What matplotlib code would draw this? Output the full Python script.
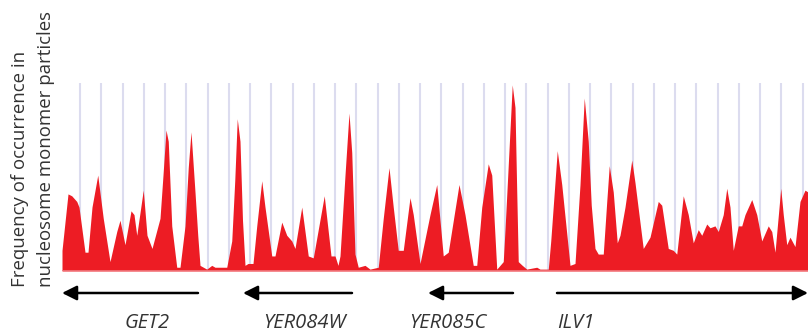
import matplotlib
matplotlib.use("Agg")
import matplotlib.pyplot as plt

plt.rcParams['font.family'] = ['Open Sans', 'DejaVu Sans']

# nucleosome occupancy profile (position in bp, relative frequency 0-100)
position = [0, 48, 78, 118, 136, 184, 208, 240, 286, 330, 384, 438, 464, 504, 552, 576, 598, 650,
            680, 720, 784, 808, 832, 850, 878, 918, 944, 984, 1010, 1032, 1064, 1086, 1104, 1158,
            1198, 1224, 1318, 1358, 1382, 1402, 1424, 1444, 1464, 1488, 1528, 1558, 1598, 1624,
            1678, 1704, 1758, 1798, 1838, 1864, 1918, 1970, 2010, 2098, 2152, 2184,
            2208, 2224, 2264, 2296, 2318, 2344, 2370, 2424, 2464, 2530, 2570, 2616,
            2650, 2690, 2730, 2784, 2810, 2864, 2944, 2998, 3050, 3090, 3176, 3224,
            3290, 3318, 3358, 3410, 3438, 3478, 3530, 3544, 3566, 3602, 3624, 3638, 3650, 3682,
            3718, 3798, 3824, 3890, 3910, 3962, 3998, 4064, 4104, 4144, 4178, 4210, 4234,
            4264, 4290, 4330, 4358, 4378, 4410, 4442, 4464, 4504, 4558, 4584, 4650,
            4704, 4770, 4798, 4850, 4890, 4918, 4970, 5010, 5050, 5090, 5118, 5158,
            5184, 5224, 5250, 5290, 5318, 5344, 5370, 5410, 5438, 5464, 5518, 5558,
            5598, 5650, 5678, 5704, 5750, 5770, 5798, 5824, 5864, 5904, 5944, 5968]
frequency = [11, 41, 40, 37, 34, 10, 10, 34, 51, 28, 5, 21, 27, 14, 32, 30, 19, 43,
             19, 12, 28, 51, 75, 69, 24, 2, 2, 24, 55, 74, 42, 19, 3, 1,
             3, 2, 2, 16, 48, 81, 69, 27, 3, 4, 4, 24, 48, 34,
             8, 8, 26, 19, 16, 12, 34, 8, 7, 40, 8, 8,
             3, 8, 51, 84, 63, 9, 2, 3, 1, 2, 28, 55,
             34, 11, 11, 39, 30, 4, 30, 46, 8, 10, 46, 30,
             3, 3, 34, 57, 51, 1, 5, 22, 51, 99, 87, 42, 5, 3,
             1, 2, 1, 1, 16, 64, 46, 3, 4, 46, 92, 69, 35,
             12, 9, 9, 37, 56, 42, 15, 19, 34, 59, 47, 12,
             18, 37, 35, 12, 11, 9, 40, 30, 15, 22, 19, 25,
             23, 24, 21, 30, 44, 34, 11, 24, 24, 30, 38, 30,
             16, 24, 21, 10, 44, 30, 14, 18, 13, 37, 43, 42]

# nucleosome reference grid
grid_start = 144
grid_step = 170
n_grid = 35

# genes: (name, arrow tail, arrow head, label x)
genes = [("GET2", 1088, 0, 680),
         ("YER084W", 2320, 1448, 1936),
         ("YER085C", 3608, 2928, 3088),
         ("ILV1", 3960, 5968, 4112)]

fig = plt.figure(figsize=(8.08, 3.35), dpi=100)
ax = fig.add_axes([62 / 808, 64 / 335, 746 / 808, 188 / 335])

for k in range(n_grid):
    ax.axvline(grid_start + k * grid_step, color='#dcdcef', lw=1.5, zorder=1)

ax.fill_between(position, 0, frequency, color='#ed1c24', lw=0, zorder=2)
ax.axhline(0, color='#f07a7f', lw=1.2, zorder=3)

ax.set_xlim(0, 5968)
ax.set_ylim(0, 100)
ax.axis('off')

for name, tail, head, lx in genes:
    ax.annotate('', xy=(head, -0.117), xytext=(tail, -0.117),
                xycoords=('data', 'axes fraction'), textcoords=('data', 'axes fraction'),
                arrowprops=dict(arrowstyle='-|>', color='black', lw=1.8,
                                mutation_scale=22, shrinkA=0, shrinkB=0),
                annotation_clip=False)
    ax.text(lx, -0.277, name, transform=ax.get_xaxis_transform(), ha='center', va='center',
            fontsize=14.5, style='italic', color='#333333')

fig.text(20 / 808, 48 / 335, 'Frequency of occurrence in', rotation=90,
         ha='center', va='bottom', fontsize=13.4, color='#333333')
fig.text(46 / 808, 48 / 335, 'nucleosome monomer particles', rotation=90,
         ha='center', va='bottom', fontsize=13.4, color='#333333')

fig.savefig('out.png', dpi=100)
